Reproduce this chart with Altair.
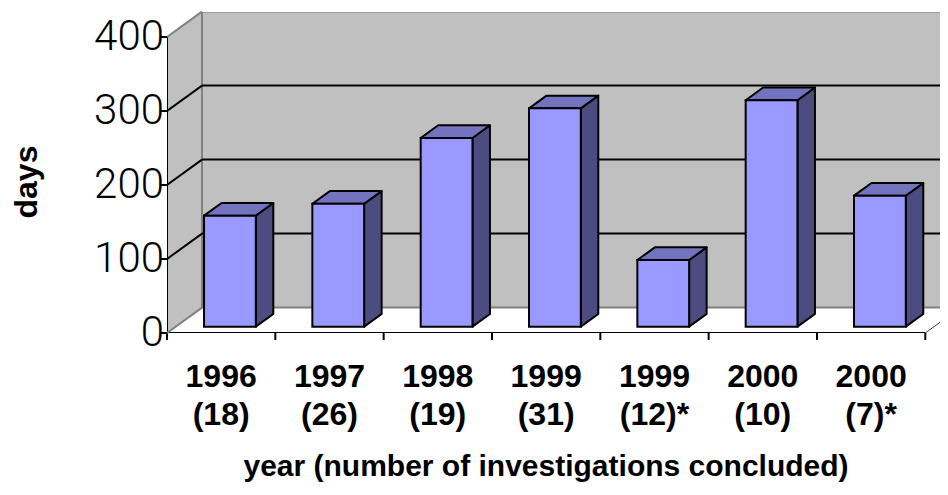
import altair as alt
import pandas as pd

# ---- data ----
years = ["1996", "1997", "1998", "1999", "1999", "2000", "2000"]
counts = ["(18)", "(26)", "(19)", "(31)", "(12)*", "(10)", "(7)*"]
days = [150, 166, 255, 295, 90, 306, 177]
y_ticks = [0, 100, 200, 300, 400]
grid_vals = [100, 200, 300]
x_title = "year (number of investigations concluded)"
y_title = "days"

# ---- oblique 3-D projection (in data units) ----
N = len(days)
DU = 0.323      # full depth, in category units
DV = 34.3       # full depth, in days
HW = 0.239      # half bar width
D_FRONT = 0.25  # depth of bar front face
D_BAR = 0.5     # bar depth
W, H = 773, 321
XMAX = W / 108.33
YMAX = H / 0.74
YTOP = max(y_ticks)

xs = alt.Scale(domain=[0, XMAX], nice=False, zero=False)
ys = alt.Scale(domain=[0, YMAX], nice=False, zero=False)


def X(f, **kw):
    return alt.X(f, type="quantitative", scale=xs, axis=None, **kw)


def Y(f, **kw):
    return alt.Y(f, type="quantitative", scale=ys, axis=None, stack=None, **kw)


# walls
left_wall = pd.DataFrame({"u": [0, DU], "lo": [0, DV], "hi": [YTOP, YTOP + DV]})
back_wall = pd.DataFrame({"u1": [DU], "u2": [N + DU], "v1": [DV], "v2": [YTOP + DV]})

black_lines = []
for k in grid_vals:
    black_lines.append({"xa": DU, "ya": k + DV, "xb": N + DU, "yb": k + DV})
    black_lines.append({"xa": 0, "ya": k, "xb": DU, "yb": k + DV})
black_lines.append({"xa": 0, "ya": 0, "xb": 0, "yb": YTOP})
black_lines.append({"xa": 0, "ya": 0, "xb": N, "yb": 0})
for i in range(N + 1):
    black_lines.append({"xa": i, "ya": 0, "xb": i, "yb": -7 / 0.74})
black_lines = pd.DataFrame(black_lines)

gray_lines = pd.DataFrame([
    {"xa": 0, "ya": YTOP, "xb": DU, "yb": YTOP + DV},
    {"xa": 0, "ya": 0, "xb": DU, "yb": DV},
])
right_edge = pd.DataFrame([{"xa": N, "ya": 0, "xb": N + DU, "yb": DV}])

# bars
fronts, sides, tops = [], [], []
for i, v in enumerate(days):
    fl = i + 0.5 - HW + D_FRONT * DU
    fr = i + 0.5 + HW + D_FRONT * DU
    fb = D_FRONT * DV
    ft = v + fb
    fronts.append({"bar": i, "fl": fl, "fr": fr, "fb": fb, "ft": ft})
    for d in (0, D_BAR):
        sides.append({"bar": i, "u": fr + d * DU, "top": ft + d * DV, "bot": fb + d * DV})
        tops.append({"bar": i, "v": ft + d * DV, "l": fl + d * DU, "r": fr + d * DU})
fronts, sides, tops = pd.DataFrame(fronts), pd.DataFrame(sides), pd.DataFrame(tops)

cats = pd.DataFrame({"c": [i + 0.5 for i in range(N)], "year": years, "count": counts})
yt = pd.DataFrame({"t": y_ticks, "lab": [str(t) for t in y_ticks]})
titles = pd.DataFrame({"xt": [x_title], "yt": [y_title]})

lw = alt.Chart(left_wall).mark_area(color="#c0c0c0").encode(
    x=X("u"), y=Y("hi"), y2="lo")
bw = alt.Chart(back_wall).mark_rect(
    fill="#c0c0c0", stroke="#808080", strokeWidth=2, clip=True).encode(
    x=X("u1"), x2="u2", y=Y("v1"), y2="v2")
bl = alt.Chart(black_lines).mark_rule(color="black", strokeWidth=2, clip=True).encode(
    x=X("xa"), y=Y("ya"), x2="xb", y2="yb")
# ticks below the floor are outside the plot: draw them unclipped
tick_df = black_lines[black_lines["yb"] < 0]
tk = alt.Chart(tick_df).mark_rule(color="black", strokeWidth=2).encode(
    x=X("xa"), y=Y("ya"), x2="xb", y2="yb")
gl = alt.Chart(gray_lines).mark_rule(color="#808080", strokeWidth=2).encode(
    x=X("xa"), y=Y("ya"), x2="xb", y2="yb")
re_ = alt.Chart(right_edge).mark_rule(color="#404040", strokeWidth=1, clip=True).encode(
    x=X("xa"), y=Y("ya"), x2="xb", y2="yb")

side = alt.Chart(sides).mark_area(
    fill="#4c4c80", stroke="black", strokeWidth=2, strokeJoin="round").encode(
    x=X("u"), y=Y("top"), y2="bot", detail="bar:N")
top = alt.Chart(tops).mark_area(
    orient="horizontal", fill="#7373bf", stroke="black", strokeWidth=2,
    strokeJoin="round").encode(
    y=Y("v"), x=X("l"), x2="r", detail="bar:N")
front = alt.Chart(fronts).mark_rect(
    fill="#9999ff", stroke="black", strokeWidth=2).encode(
    x=X("fl"), x2="fr", y=Y("fb"), y2="ft")

# y axis ticks and labels
ytick = alt.Chart(yt).mark_rule(color="black", strokeWidth=2).encode(
    x=alt.value(-7), x2=alt.value(0), y=Y("t"))
ylab = alt.Chart(yt).mark_text(
    font="Roboto", fontWeight=300, fontSize=42, color="black",
    align="right", baseline="middle").encode(
    x=alt.value(-3), y=Y("t"), text="lab:N")

# x axis labels (two lines)
xl1 = alt.Chart(cats).mark_text(
    font="Liberation Sans", fontWeight="bold", fontSize=32, color="black",
    align="center", baseline="alphabetic").encode(
    x=X("c"), y=alt.value(375), text="year:N")
xl2 = alt.Chart(cats).mark_text(
    font="Liberation Sans", fontWeight="bold", fontSize=32, color="black",
    align="center", baseline="alphabetic").encode(
    x=X("c"), y=alt.value(413), text="count:N")

xt = alt.Chart(titles).mark_text(
    font="Liberation Sans", fontWeight="bold", fontSize=30, color="black",
    align="center", baseline="alphabetic").encode(
    x=alt.value(379), y=alt.value(464), text="xt:N")
ytt = alt.Chart(titles).mark_text(
    font="Liberation Sans", fontWeight="bold", fontSize=32, color="black",
    align="center", baseline="middle", angle=270).encode(
    x=alt.value(-140), y=alt.value(170), text="yt:N")

chart = alt.layer(
    lw, bw, bl, tk, gl, re_, side, top, front, ytick, ylab, xl1, xl2, xt, ytt
).properties(
    width=W, height=H,
    autosize=alt.AutoSizeParams(type="none"),
    padding={"left": 159, "top": 4, "right": 0, "bottom": 150},
    background="white",
).configure_view(stroke=None)

chart.save("out.html", embed_options={"renderer": "svg", "actions": False})
